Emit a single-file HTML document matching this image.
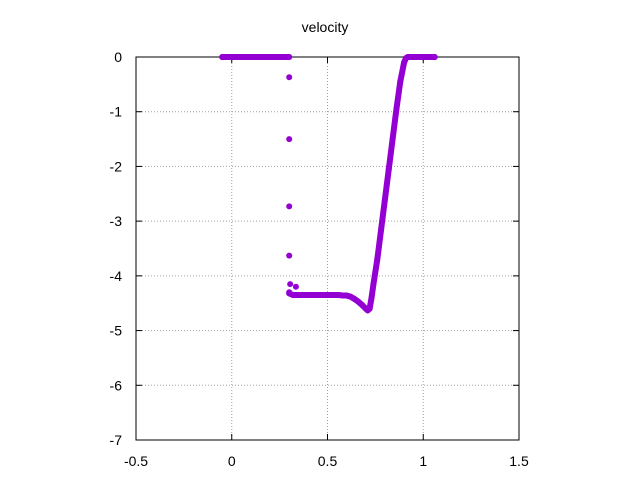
<!DOCTYPE html>
<html><head><meta charset="utf-8"><style>
body{margin:0;background:#fff;}
svg text{font-family:"Liberation Sans",sans-serif;font-size:14px;fill:#000;}
</style></head><body>
<svg id="chart" width="640" height="480" xmlns="http://www.w3.org/2000/svg">
<rect width="640" height="480" fill="#fff"/>
<text x="325" y="32" text-anchor="middle">velocity</text>
<g id="grid"></g>
<g id="axes"></g>
<g id="marks"></g>
</svg>
<script>
const xTicks=[-0.5,0,0.5,1,1.5];
const xTickLabels=["-0.5","0","0.5","1","1.5"];
const yTicks=[0,-1,-2,-3,-4,-5,-6,-7];
const yTickLabels=["0","-1","-2","-3","-4","-5","-6","-7"];
const leftX=[-0.05,-0.025,0,0.025,0.05,0.075,0.1,0.125,0.15,0.175,0.2,0.225,0.25,0.275,0.3];
const leftY=[0,0,0,0,0,0,0,0,0,0,0,0,0,0,0];
const scatterX=[0.30,0.30,0.30,0.30,0.305,0.335,0.30];
const scatterY=[-0.37,-1.5,-2.73,-3.63,-4.15,-4.2,-4.3];
const mainX=[0.30,0.32,0.34,0.36,0.38,0.40,0.42,0.44,0.46,0.48,0.50,0.52,0.54,0.56,0.58,0.60,0.62,0.64,0.66,0.68,0.70,0.71,0.72,0.73,0.74,0.76,0.78,0.80,0.82,0.84,0.86,0.88,0.90,0.91,0.92,0.94,0.96,0.98,1.0,1.02,1.04,1.06];
const mainY=[-4.32,-4.35,-4.35,-4.35,-4.35,-4.35,-4.35,-4.35,-4.35,-4.35,-4.35,-4.35,-4.35,-4.35,-4.36,-4.36,-4.38,-4.42,-4.47,-4.53,-4.6,-4.63,-4.6,-4.4,-4.15,-3.7,-3.15,-2.6,-2.05,-1.5,-0.95,-0.45,-0.1,-0.02,0,0,0,0,0,0,0,0];

const L=136,R=519,T=57,B=440,NS="http://www.w3.org/2000/svg";
const sx=v=>L+(v-(-0.5))/2*(R-L);
const sy=v=>T+(0-v)/7*(B-T);
function mk(tag,attrs,parent){const e=document.createElementNS(NS,tag);for(const k in attrs)e.setAttribute(k,attrs[k]);parent.appendChild(e);return e;}
const grid=document.getElementById('grid'),axes=document.getElementById('axes'),marks=document.getElementById('marks');
xTicks.forEach((v,i)=>{const x=sx(v);
 if(i>0&&i<xTicks.length-1){const g=mk('line',{x1:x,x2:x,y1:T,y2:B,stroke:'#a0a0a0','stroke-dasharray':'1,2','stroke-width':1},grid);
 
 }
 mk('line',{x1:x,x2:x,y1:B,y2:B-6,stroke:'#000'},axes);
 mk('line',{x1:x,x2:x,y1:T,y2:T+6,stroke:'#000'},axes);
 const t=mk('text',{x:x,y:B+26,'text-anchor':'middle'},axes);t.textContent=xTickLabels[i];
 
 });
yTicks.forEach((v,i)=>{const y=sy(v);
 if(i>0&&i<yTicks.length-1){const g=mk('line',{x1:L,x2:R,y1:y,y2:y,stroke:'#a0a0a0','stroke-dasharray':'1,2','stroke-width':1},grid);
 
 }
 mk('line',{x1:L,x2:L+6,y1:y,y2:y,stroke:'#000'},axes);
 mk('line',{x1:R,x2:R-6,y1:y,y2:y,stroke:'#000'},axes);
 const t=mk('text',{x:L-14,y:y+5,'text-anchor':'end'},axes);t.textContent=yTickLabels[i];
 
 });
const frame=mk('rect',{x:L,y:T,width:R-L,height:B-T,fill:'none',stroke:'#000'},axes);


const col='#9400d3';
function seg(xs,ys,name){const p=mk('polyline',{points:xs.map((x,i)=>sx(x)+','+sy(ys[i])).join(' '),fill:'none',stroke:col,'stroke-width':6,'stroke-linejoin':'round','stroke-linecap':'round'},marks);
 
 }
seg(leftX,leftY,'left-plateau');
seg(mainX,mainY,'main-profile');
function pts(xs,ys){xs.forEach((x,i)=>{const c=mk('circle',{cx:sx(x),cy:sy(ys[i]),r:3,fill:col},marks);
 
 });}
pts(leftX,leftY);pts(scatterX,scatterY);pts(mainX,mainY);
</script>
</body></html>
